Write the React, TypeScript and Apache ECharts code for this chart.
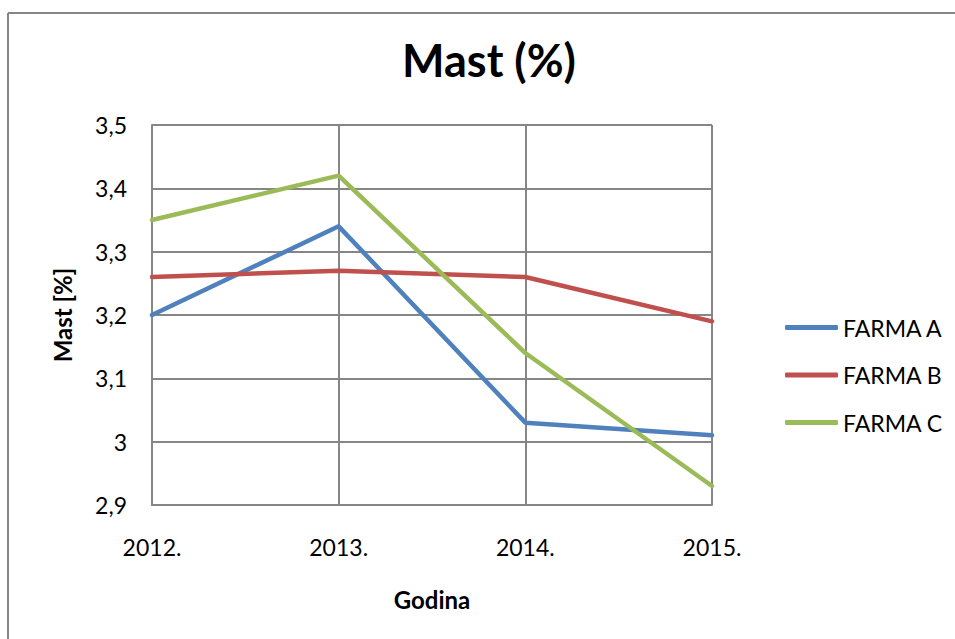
import React, { useEffect, useRef } from "react";
import * as echarts from "echarts";

const years = ["2012.", "2013.", "2014.", "2015."];
const farmaA = [3.2, 3.34, 3.03, 3.01];
const farmaB = [3.26, 3.27, 3.26, 3.19];
const farmaC = [3.35, 3.42, 3.14, 2.93];
const seriesNames = ["FARMA A", "FARMA B", "FARMA C"];
const colors = ["#4F81BD", "#C0504D", "#9BBB59"];

const FONT = "Lato";

export default function App() {
  const ref = useRef<HTMLDivElement>(null);
  useEffect(() => {
    if (!ref.current) return;
    const chart = echarts.init(ref.current, undefined, { renderer: "svg" });
    const fmt = (v: number) => String(Number(v.toFixed(1))).replace(".", ",");
    chart.setOption({
      animation: false,
      backgroundColor: "#ffffff",
      textStyle: { fontFamily: FONT },
      title: {
        text: "Mast (%)",
        left: 484,
        textAlign: "center",
        top: 32,
        textStyle: { fontFamily: FONT, fontSize: 45, fontWeight: "bold", color: "#000" },
      },
      graphic: [
        { type: "line", shape: { x1: 8, y1: 13, x2: 955, y2: 13 }, style: { stroke: "#868686", lineWidth: 2 } },
        { type: "line", shape: { x1: 8, y1: 13, x2: 8, y2: 639 }, style: { stroke: "#868686", lineWidth: 2 } },
      ],
      grid: { left: 152, top: 125, width: 560, height: 380, containLabel: false },
      legend: {
        orient: "vertical",
        left: 780,
        top: 311,
        itemWidth: 53,
        itemHeight: 5,
        itemGap: 24.5,
        icon: "roundRect",
        data: seriesNames,
        textStyle: { fontFamily: FONT, fontSize: 23, color: "#000", lineHeight: 23 },
      },
      xAxis: {
        type: "category",
        data: years,
        boundaryGap: false,
        name: "Godina",
        nameLocation: "middle",
        nameGap: 82,
        nameTextStyle: { fontFamily: FONT, fontSize: 24, fontWeight: "bold", color: "#000" },
        axisLine: { show: true, lineStyle: { color: "#868686", width: 2 } },
        axisTick: { show: false },
        axisLabel: { margin: 30, fontFamily: FONT, fontSize: 23, color: "#000" },
        splitLine: { show: true, lineStyle: { color: "#868686", width: 2 } },
      },
      yAxis: {
        type: "value",
        min: 2.9,
        max: 3.5,
        interval: 0.1,
        name: "Mast [%]",
        nameLocation: "middle",
        nameGap: 78,
        nameTextStyle: { fontFamily: FONT, fontSize: 24, fontWeight: "bold", color: "#000" },
        axisLine: { show: true, lineStyle: { color: "#868686", width: 2 } },
        axisTick: { show: false },
        axisLabel: { margin: 25, fontFamily: FONT, fontSize: 23, color: "#000", formatter: fmt },
        splitLine: { show: true, lineStyle: { color: "#868686", width: 2 } },
      },
      series: [farmaA, farmaB, farmaC].map((d, i) => ({
        name: seriesNames[i],
        type: "line",
        data: d,
        symbol: "none",
        color: colors[i],
        lineStyle: { width: 4.5, color: colors[i], cap: "round" },
      })),
    });
    return () => chart.dispose();
  }, []);
  return <div ref={ref} style={{ position: "fixed", left: 0, top: 0, width: 955, height: 639 }} />;
}
